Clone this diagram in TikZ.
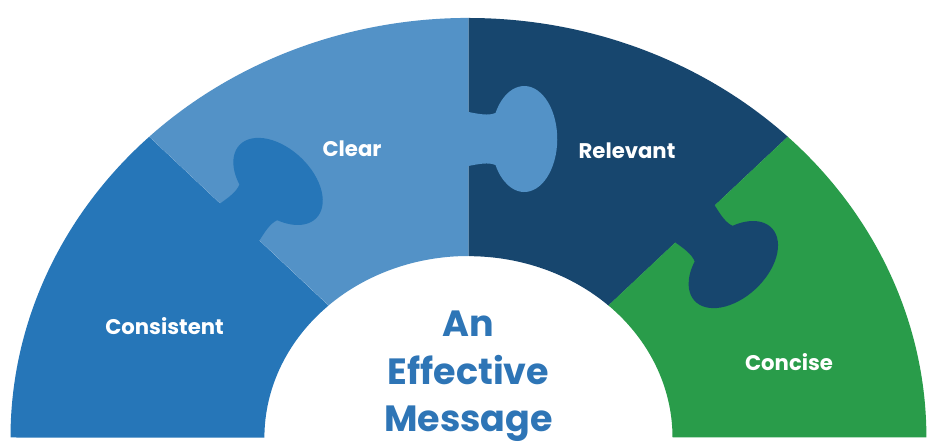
\documentclass[tikz,border=0pt]{standalone}
\usepackage{fontspec}
\setmainfont{Poppins}
\usetikzlibrary{positioning}

\definecolor{consistentblue}{HTML}{2676B8}
\definecolor{clearblue}{HTML}{5392C7}
\definecolor{relevantnavy}{HTML}{17466E}
\definecolor{concisegreen}{HTML}{299C4A}
\definecolor{messageblue}{HTML}{2E75B6}

% puzzle tab: base on the cut line at (#2), pointing along angle #3
\newcommand{\puzzletab}[3]{%
  \begin{scope}[shift={(#2)}, rotate=#3]
    \fill[#1] (-1,27) -- (0,27) .. controls (10,25) and (20,23) .. (27,26)
      arc[start angle=150.6, end angle=-150.6, x radius=33, y radius=53]
      .. controls (20,-23) and (10,-25) .. (0,-27) -- (-1,-27) -- cycle;
  \end{scope}}

\begin{document}
\begin{tikzpicture}[x=1pt, y=1pt,
    outer/.style={x radius=458, y radius=419.5},
    inner/.style={x radius=204, y radius=181.5},
    piecelabel/.style={text=white, font=\bfseries\fontsize{21.2}{26}\selectfont},
    title/.style={text=messageblue, font=\bfseries\fontsize{36.5}{47.5}\selectfont, align=center}
]
    \useasboundingbox (0,0) rectangle (931,443);

    % the four pieces
    \fill[consistentblue] (10.5,5.5) arc[outer, start angle=180, end angle=134.2]
        -- (328.5,137.4) arc[inner, start angle=133.3, end angle=180] -- cycle;
    \fill[clearblue] (149.3,306.3) arc[outer, start angle=134.2, end angle=90]
        -- (468.5,187) arc[inner, start angle=90, end angle=133.3] -- cycle;
    \fill[relevantnavy] (468.5,425) arc[outer, start angle=90, end angle=45.8]
        -- (608.5,137.4) arc[inner, start angle=46.7, end angle=90] -- cycle;
    \fill[concisegreen] (787.7,306.3) arc[outer, start angle=45.8, end angle=0]
        -- (672.5,5.5) arc[inner, start angle=0, end angle=46.7] -- cycle;

    % tabs
    \puzzletab{clearblue}{468.5,304}{0}
    \puzzletab{consistentblue}{239.8,221}{46.7}
    \puzzletab{relevantnavy}{695.1,219}{-46.7}

    \node[piecelabel, anchor=base] (consistent) at (164.5,108.7) {Consistent};
    \node[piecelabel, anchor=base] (clear) at (352,286) {Clear};
    \node[piecelabel, anchor=base] (relevant) at (627,284) {Relevant};
    \node[piecelabel, anchor=base] (concise) at (789,72.3) {Concise};

    \node[title, anchor=base] (message) at (468.5,11.3) {An\\Effective\\Message};
\end{tikzpicture}
\end{document}
